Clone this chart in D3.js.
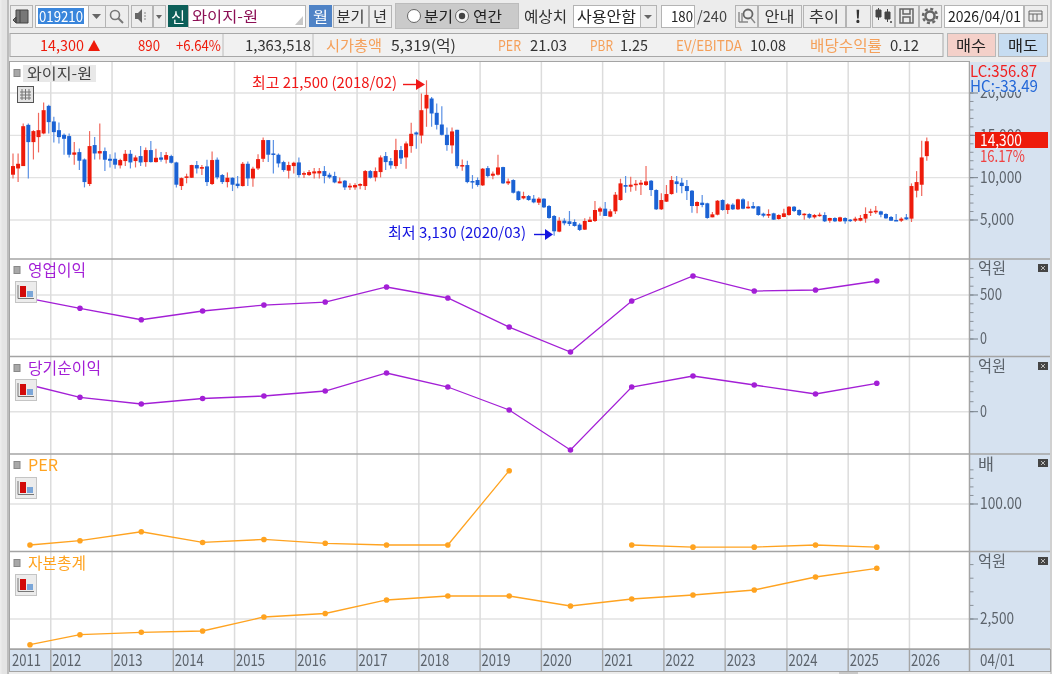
<!DOCTYPE html>
<html>
<head>
<meta charset="utf-8">
<script src="https://cdn.jsdelivr.net/npm/d3@7"></script>
<style>
  html, body { margin: 0; padding: 0; background: #ececec; overflow: hidden; }
  svg { display: block; filter: blur(0.35px); }
  text { font-family: "Noto Sans CJK KR", "Noto Sans", sans-serif; }
</style>
</head>
<body>
<svg id="chart" width="1052" height="674"></svg>
<script>
// monthly candles, 2011/05 .. 2026/04
const opens = [
  10350,11090,11370,16240,14200,14790,15220,18480,16640,15610,15060,14910,
  12710,13020,12150,9250,13850,12860,13140,12230,12230,11450,11960,12820,
  11960,12550,11840,13260,11840,12390,12120,12550,11800,9010,9990,9990,
  11490,11060,11330,9250,12120,10310,9480,9990,9290,9010,11640,9910,
  11090,12230,14440,12860,12710,11840,10820,11370,11800,10350,10310,10500,
  10500,10780,10350,10190,9330,9640,8850,8850,9050,9010,10780,10030,
  10660,12550,11960,11370,13260,12390,13730,15340,14980,18170,19350,17660,
  16280,15060,13810,15650,11370,11490,9600,9720,9090,11130,10230,10350,
  11250,9330,9720,8380,7555,7830,7520,7045,7520,6650,5475,3625,
  4925,4845,4765,4450,3860,4765,4885,5985,6340,5395,6025,7360,
  9130,8930,9130,9170,9130,9640,8540,6260,7165,8065,9560,9405,
  9010,8460,6650,7045,6970,5315,5630,7360,6180,6810,6260,7440,
  6375,6650,6610,5745,5510,5785,5120,5355,5590,6570,6180,5590,
  5710,5315,5470,5590,4920,5235,4845,5235,5040,4920,4920,5160,
  5865,5905,6020,5710,5355,5000,4920,5315,5160,8460,9165,12545
];
const closes = [
  11370,11640,16080,14200,15500,15610,17970,16560,15380,14790,14590,12710,
  12980,11999,9480,13730,12860,13140,12120,12000,11530,12080,12820,11800,
  12390,11800,13260,11840,12350,12120,12670,11760,9170,9950,10150,11490,
  11090,11250,9480,12080,10030,9480,9990,9170,9010,11640,9910,11060,
  12190,14440,12710,12740,11680,10900,11490,11760,10310,10540,10660,10740,
  10780,10190,10030,9440,9560,8850,9050,9130,9250,10780,9990,10780,
  12390,11840,11450,13260,12270,14040,15180,15100,17970,19780,17580,16240,
  15060,13850,15460,11370,11490,9480,9520,9130,11060,10190,10470,11210,
  9330,9560,8220,7360,7830,7360,7085,7520,6495,5240,3665,4925,
  4610,4530,4295,3825,4885,5040,6180,6375,5475,6025,7990,9325,
  8930,9170,9285,9405,9560,8540,6260,7360,8065,9720,9245,9010,
  8420,6650,7125,6770,5240,5670,7280,6180,6850,6260,7440,6335,
  6570,6375,5590,5510,5710,5040,5590,5785,6570,6060,5590,5745,
  5275,5590,5630,4845,5235,4845,5315,4845,4920,5160,5235,5710,
  6020,6100,5630,5195,4920,4920,5160,5080,9010,9480,12390,14300
];
const highs = [
  12860,12860,16400,16400,15610,17660,18880,18600,17190,16520,15220,15220,
  14200,13450,12270,15500,14790,16400,13570,12780,12980,12230,13260,13260,
  12630,13730,13570,14320,13410,13020,13020,12710,11880,10030,10470,11530,
  11960,11490,12120,13100,12390,10430,10620,10030,10190,11840,11920,11290,
  12780,14750,14440,14440,12860,12000,11880,11880,12390,10740,10900,11130,
  11130,11370,10580,10700,10030,9720,9330,9330,9330,10900,10900,11210,
  12630,13020,12310,14590,13730,14280,16480,15460,19940,21500,19540,18760,
  18440,15930,15930,15650,12150,12000,10310,10030,11130,11370,10740,12710,
  11290,9910,9800,8460,8340,7950,7950,7675,7555,6770,5590,5315,
  5200,6060,5080,4610,5200,5395,7240,6575,7125,6260,8300,9875,
  10190,10110,9720,9720,11370,9720,8620,8145,9130,10190,10190,9955,
  9720,8540,7200,7950,7045,5945,7360,7440,6970,6970,7515,7555,
  7200,7120,6650,5865,6260,5865,5670,6335,6650,6650,6260,5785,
  5785,5710,5865,5905,5275,5315,5395,5315,5120,5395,5590,6495,
  6335,6650,6100,5785,5470,5710,5315,5710,9325,10775,14355,14745
];
const lows = [
  9910,9480,11370,9910,12150,12980,15140,15220,14160,14040,12710,12390,
  11530,10900,8850,9010,12150,12150,10780,11210,11060,11090,11370,11090,
  11210,11370,11290,11800,11800,11880,11680,11680,8850,8540,9330,9950,
  10500,10310,9010,9130,9800,9250,8850,8420,8740,8970,9010,8930,
  10900,11840,11840,10500,11210,10700,9910,10500,10030,9950,10190,9910,
  9910,9330,9880,9330,9330,8540,8540,8580,8620,8540,9910,9560,
  10030,10900,11060,11060,11610,11060,12940,13410,14040,16010,16010,15690,
  14980,13180,12860,11090,10820,9330,8700,8930,9010,10030,9800,10270,
  9250,9130,8140,7280,7440,7280,6970,6770,6415,5160,3130,3550,
  4370,4295,4215,3705,3825,4765,4765,5515,5475,5315,5710,7280,
  8225,8340,8460,7950,9010,7830,6180,6180,7125,7990,8225,8145,
  7360,5865,5790,6495,5160,5315,5550,6100,5710,6180,6180,6260,
  6335,6335,5510,5315,5235,5000,5040,5315,5510,5945,5470,5040,
  5160,5160,5395,4765,4685,4765,4765,4570,4765,4765,4845,4685,
  5470,5710,5315,5160,4880,4880,4765,5000,4765,7670,7830,11995
];

const yearLabels = ["2011","2012","2013","2014","2015","2016","2017","2018","2019","2020","2021","2022","2023","2024","2025","2026"];
const yearSlots = [-0.5,7.4,19.4,31.4,43.4,55.4,67.4,79.5,91.5,103.5,115.5,127.5,139.5,151.6,163.6,175.6];

const financeSlots = [3.33,13.12,25.13,37.14,49.15,61.16,73.17,85.18,97.2,109.2,121.2,133.2,145.2,157.2,169.2];
const operatingProfit = [460,349,219,318,386,420,591,466,136,-148,432,716,545,557,659];
const netIncome = [267,144,77,132,157,207,387,247,17,-383,247,357,267,177,284];
const perValues = [4,14,35,10,17,8,4,4,178,null,4,-1,-1,4,-1];
const totalEquity = [1555,1923,2011,2059,2574,2702,3199,3346,3346,2978,3235,3382,3566,4044,4364];

const priceTicks = [5000,10000,15000,20000];
const RED = "#ee1b0b", BLUE = "#1b62d4", PURPLE = "#a31fd6", ORANGE = "#ffa320";
const AXIS_BG = "#d6e2f0", AXIS_TEXT = "#5c636b", GRID = "#e2e2e2", BORDER = "#a4a4a4";
const fmt = d3.format(",");

const svg = d3.select("#chart");
const x = d3.scaleLinear().domain([0, 179]).range([13, 926.8]);

function rect(g, x0, y0, w, h, fill, stroke) {
  return g.append("rect").attr("x", x0).attr("y", y0).attr("width", w).attr("height", h)
    .attr("fill", fill).attr("stroke", stroke || "none");
}
function label(g, x0, yMid, str, fill, size, width, anchor) {
  const t = g.append("text").attr("x", x0).attr("y", yMid)
    .attr("dy", "0.4em")
    .attr("fill", fill || "#333")
    .attr("font-size", size || 14)
    .attr("text-anchor", anchor || "start")
    .text(str);
  if (width) t.attr("textLength", width).attr("lengthAdjust", "spacingAndGlyphs");
  return t;
}
function button(g, x0, y0, w, h, str, width) {
  rect(g, x0 + 0.5, y0 + 0.5, w, h, "#ededed", "#b4b4b4");
  if (str) label(g, x0 + w / 2 - width / 2, y0 + h / 2, str, "#333", 15, width);
}

// toolbar
const bar = svg.append("g");
rect(bar, 0, 0, 1052, 674, "#ececec");
rect(bar, 1.5, 0, 6, 674, "#e4e4e4");
rect(bar, 7, 0, 2, 674, "#bdbdbd");
rect(bar, 1050, 0, 2, 674, "#d0d0d0");
button(bar, 10, 5, 22, 22);
bar.append("path").attr("d", "M16 10h12v13h-12zM20 10v13M13 20l3-3v6z").attr("fill", "#777").attr("stroke", "#444");
rect(bar, 35.5, 5.5, 53, 22, "#fff", "#b4b4b4");
rect(bar, 38, 8, 46, 16, "#3a86dc");
label(bar, 39, 16, "019210", "#fff", 15, 44);
button(bar, 88, 5, 17, 22);
bar.append("path").attr("d", "M92 14h9l-4.5 5z").attr("fill", "#666");
button(bar, 105, 5, 23, 22);
bar.append("circle").attr("cx", 115).attr("cy", 15).attr("r", 4.5).attr("fill", "none").attr("stroke", "#777").attr("stroke-width", 1.6);
bar.append("path").attr("d", "M118 18l5 5").attr("stroke", "#777").attr("stroke-width", 2);
button(bar, 131, 5, 21, 22);
bar.append("path").attr("d", "M135 13h3l4-4v14l-4-4h-3z").attr("fill", "#666");
bar.append("path").attr("d", "M144 13h2M144 16h2M144 19h2").attr("stroke", "#888");
button(bar, 153, 5, 12, 22);
bar.append("path").attr("d", "M156 15h6l-3 4z").attr("fill", "#666");
rect(bar, 168, 5, 20, 22, "#0c5f59");
label(bar, 171, 16, "신", "#fff", 14, 14);
rect(bar, 188.5, 5.5, 117, 22, "#fff", "#b4b4b4");
label(bar, 192, 16, "와이지-원", "#8c0f55", 15, 66);
bar.append("path").attr("d", "M303 25v-9l-8 9z").attr("fill", "#c8c8c8");
rect(bar, 309, 5, 23, 22, "#4f83c6");
label(bar, 313, 16, "월", "#fff", 15, 15);
button(bar, 333, 5, 35, 22, "분기", 28);
button(bar, 369, 5, 22, 22, "년", 14);
rect(bar, 395.5, 3.5, 123, 25, "#cacaca", "#bcbcbc");
bar.append("circle").attr("cx", 414).attr("cy", 16).attr("r", 6.5).attr("fill", "#fff").attr("stroke", "#666");
label(bar, 424, 16, "분기", "#222", 15, 29);
bar.append("circle").attr("cx", 462).attr("cy", 16).attr("r", 6.5).attr("fill", "#f4f4f4").attr("stroke", "#666");
bar.append("circle").attr("cx", 462).attr("cy", 16).attr("r", 3.2).attr("fill", "#444");
label(bar, 473, 16, "연간", "#222", 15, 29);
label(bar, 524, 16, "예상치", "#333", 15, 43);
rect(bar, 573.5, 5.5, 67, 22, "#fff", "#b4b4b4");
label(bar, 577, 16, "사용안함", "#222", 15, 59);
button(bar, 640, 5, 16, 22);
bar.append("path").attr("d", "M644 15h8l-4 4z").attr("fill", "#666");
rect(bar, 661.5, 5.5, 33, 22, "#fff", "#b4b4b4");
label(bar, 671, 16, "180", "#222", 15, 22);
label(bar, 697, 16, "/240", "#444", 15, 30);
button(bar, 735, 5, 22, 22);
bar.append("circle").attr("cx", 748).attr("cy", 14).attr("r", 4.5).attr("fill", "none").attr("stroke", "#666").attr("stroke-width", 1.8);
bar.append("path").attr("d", "M751 18l4 5M739 22h9M739 12v10M742 13v9").attr("stroke", "#888").attr("stroke-width", 1.4);
button(bar, 758, 5, 43, 22, "안내", 30);
button(bar, 803, 5, 42, 22, "추이", 30);
button(bar, 846, 5, 24, 22);
label(bar, 858, 16, "!", "#333", 17, null, "middle").attr("font-weight", 700);
button(bar, 872, 5, 22, 22);
bar.append("path").attr("d", "M876 10h5v7h-5zM885 12h5v7h-5zM878.5 8v12M887.5 9v13").attr("fill", "#444").attr("stroke", "#444");
bar.append("path").attr("d", "M890 22h2M891 21v2").attr("stroke", "#444");
button(bar, 895, 5, 23, 22);
bar.append("path").attr("d", "M900 9h13v14h-13zM903 9v5h7v-5M903 23v-6h7v6").attr("fill", "none").attr("stroke", "#666").attr("stroke-width", 1.5);
button(bar, 919, 5, 22, 22);
bar.append("circle").attr("cx", 930).attr("cy", 16).attr("r", 7).attr("fill", "none").attr("stroke", "#666").attr("stroke-width", 2.5).attr("stroke-dasharray", "3 2.5");
bar.append("circle").attr("cx", 930).attr("cy", 16).attr("r", 4.5).attr("fill", "none").attr("stroke", "#666").attr("stroke-width", 2.5);
rect(bar, 944.5, 5.5, 79, 22, "#fff", "#b4b4b4");
label(bar, 948, 16, "2026/04/01", "#222", 15, 73);
button(bar, 1024, 5, 23, 22);
bar.append("path").attr("d", "M1029 11h13v10h-13zM1029 14h13M1033 14v7M1037 14v7").attr("fill", "none").attr("stroke", "#666");

// quote strip
const strip = svg.append("g");
rect(strip, 10, 33.5, 933, 23, "#f1f1f1", "#a8a8a8");
strip.append("path").attr("d", "M223 34v22M313 34v22").attr("stroke", "#bcbcbc");
label(strip, 40, 45, "14,300", RED, 15, 44);
strip.append("path").attr("d", "M88 51l6-11 6 11z").attr("fill", RED);
label(strip, 138, 45, "890", RED, 15, 22);
label(strip, 176, 45, "+6.64%", RED, 15, 45);
label(strip, 245, 45, "1,363,518", "#333", 15, 66);
label(strip, 326, 45, "시가총액", "#f5a05a", 15, 56);
label(strip, 391, 45, "5,319(억)", "#333", 15, 65);
label(strip, 498, 45, "PER", "#f5a05a", 15, 23);
label(strip, 530, 45, "21.03", "#333", 15, 37);
label(strip, 590, 45, "PBR", "#f5a05a", 15, 23);
label(strip, 620, 45, "1.25", "#333", 15, 28);
label(strip, 676, 45, "EV/EBITDA", "#f5a05a", 15, 66);
label(strip, 750, 45, "10.08", "#333", 15, 36);
label(strip, 810, 45, "배당수익률", "#f5a05a", 15, 72);
label(strip, 890, 45, "0.12", "#333", 15, 29);
rect(strip, 947.5, 33.5, 48, 23, "#f4d0c9", "#b8b8b8");
label(strip, 956, 45, "매수", "#222", 15, 30);
rect(strip, 998.5, 33.5, 49, 23, "#c6dcf1", "#b8b8b8");
label(strip, 1008, 45, "매도", "#222", 15, 30);

// panels
const panels = [
  { top: 62, bottom: 259 },
  { top: 259, bottom: 356.5 },
  { top: 356.5, bottom: 454 },
  { top: 454, bottom: 551.5 },
  { top: 551.5, bottom: 649 }
];
const yPrice = d3.scaleLinear().domain([5000, 20000]).range([220, 93]);
const yOperating = d3.scaleLinear().domain([0, 500]).range([339, 295]);
const yNet = d3.scaleLinear().domain([0, 300]).range([411.7, 381.7]);
const yPer = d3.scaleLinear().domain([0, 100]).range([546.7, 504]);
const yEquity = d3.scaleLinear().domain([2000, 2500]).range([632.6, 619]);

const plot = svg.append("g");
rect(plot, 9.5, 61.5, 960, 588, "#fff", BORDER);
rect(plot, 970, 62, 80, 587, AXIS_BG);

// horizontal grid
const hLines = [
  ...priceTicks.map(yPrice),
  yOperating(0), yOperating(500), yNet(0), yPer(100), yEquity(2500)
];
plot.selectAll(".hgrid").data(hLines).join("line")
  .attr("x1", 10).attr("x2", 969).attr("y1", d => d).attr("y2", d => d)
  .attr("stroke", GRID).attr("stroke-width", 1.4);

// vertical year grid
plot.selectAll(".vgrid").data(yearSlots.slice(1)).join("line")
  .attr("x1", d => x(d)).attr("x2", d => x(d)).attr("y1", 62).attr("y2", 649)
  .attr("stroke", "#dcdcdc").attr("stroke-width", 1.5);

// panel dividers
plot.selectAll(".divider").data(panels.slice(1).map(p => p.top).concat(649)).join("line")
  .attr("x1", 9).attr("x2", 1050).attr("y1", d => d).attr("y2", d => d)
  .attr("stroke", BORDER).attr("stroke-width", 1.5);
plot.append("line").attr("x1", 969.5).attr("x2", 969.5).attr("y1", 62).attr("y2", 672)
  .attr("stroke", BORDER).attr("stroke-width", 1.5);

// candles
const candles = d3.range(180).map(i => ({ i, o: opens[i], h: highs[i], l: lows[i], c: closes[i] }));
const candleG = plot.append("g");
candleG.selectAll(".wick").data(candles).join("line")
  .attr("x1", d => x(d.i)).attr("x2", d => x(d.i))
  .attr("y1", d => yPrice(d.h)).attr("y2", d => yPrice(d.l))
  .attr("stroke", d => d.c >= d.o ? "#f0685c" : "#5a90e4")
  .attr("stroke-width", 1.2);
candleG.selectAll(".body").data(candles).join("rect")
  .attr("x", d => x(d.i) - 2)
  .attr("width", 4)
  .attr("y", d => yPrice(Math.max(d.o, d.c)))
  .attr("height", d => Math.max(1.5, Math.abs(yPrice(d.o) - yPrice(d.c))))
  .attr("fill", d => d.c >= d.o ? RED : BLUE);

// finance lines
function financeLine(values, y, color) {
  const pts = values.map((v, i) => ({ slot: financeSlots[i], v }));
  const line = d3.line().defined(d => d.v !== null).x(d => x(d.slot)).y(d => y(d.v));
  const g = plot.append("g");
  g.append("path").attr("d", line(pts)).attr("fill", "none").attr("stroke", color).attr("stroke-width", 1.3);
  g.selectAll("circle").data(pts.filter(d => d.v !== null)).join("circle")
    .attr("cx", d => x(d.slot)).attr("cy", d => y(d.v)).attr("r", 2.8).attr("fill", color);
}
financeLine(operatingProfit, yOperating, "#a31fd6");
financeLine(netIncome, yNet, "#a31fd6");
financeLine(perValues, yPer, ORANGE);
financeLine(totalEquity, yEquity, ORANGE);

// high / low callouts
label(plot, 252, 82, "최고 21,500 (2018/02)", "#f01818", 15, 145);
plot.append("path").attr("d", "M403 84.5h13").attr("stroke", "#f01818").attr("stroke-width", 1.4);
plot.append("path").attr("d", "M416 79l9 5.5-9 5.5z").attr("fill", "#f01818");
label(plot, 388, 232, "최저 3,130 (2020/03)", "#1414e0", 15, 138);
plot.append("path").attr("d", "M534 234.5h11").attr("stroke", "#1414e0").attr("stroke-width", 1.4);
plot.append("path").attr("d", "M545 229l8 5.5-8 5.5z").attr("fill", "#1414e0");

// panel titles and icons
function marker(yMid) { rect(plot, 14, yMid - 3.5, 6, 7, "#a8a8a8", "#888"); }
function chartIcon(y0) {
  rect(plot, 15.5, y0 + 0.5, 21, 21, "#ececec", "#c4c4c4");
  rect(plot, 20, y0 + 5, 6, 11, "#d20a0a");
  rect(plot, 27, y0 + 10, 6, 6, "#7ba6d8");
  plot.append("path").attr("d", `M18 ${y0 + 4}v13.5h16`).attr("fill", "none").attr("stroke", "#777");
}
marker(73);
rect(plot, 23, 65, 73, 17, "#e8e8e8");
label(plot, 27, 73, "와이지-원", "#444", 15, 65);
rect(plot, 17.5, 86.5, 16, 16, "#e4e4e4", "#555");
plot.append("path").attr("d", "M20 92h11M20 95h11M20 98h11M22 89v11M25.5 89v11M29 89v11").attr("stroke", "#777");

marker(270); label(plot, 28, 270, "영업이익", PURPLE, 16, 58); chartIcon(281);
marker(368); label(plot, 28, 368, "당기순이익", PURPLE, 16, 73); chartIcon(379);
marker(465); label(plot, 28, 465, "PER", ORANGE, 16, 30); chartIcon(477);
marker(563); label(plot, 28, 563, "자본총계", ORANGE, 16, 58); chartIcon(574);

// right axes
function yAxisTicks(scale, minors) {
  plot.append("g").selectAll("line").data(minors).join("line")
    .attr("x1", 970).attr("x2", 973.5).attr("y1", d => scale(d)).attr("y2", d => scale(d))
    .attr("stroke", "#8a929a");
}
function yAxisMajor(scale, value, text, width) {
  plot.append("line").attr("x1", 970).attr("x2", 978).attr("y1", scale(value)).attr("y2", scale(value)).attr("stroke", "#77808a");
  label(plot, 980, scale(value) - 1, text, AXIS_TEXT, 16, width);
}
function unitLabel(yMid, text, width) {
  label(plot, 978, yMid, text, AXIS_TEXT, 16, width);
}
function closeBox(yMid) {
  rect(plot, 1038, yMid - 4, 10, 8, "#454545");
  plot.append("path").attr("d", `M1041 ${yMid - 2}l4 4M1045 ${yMid - 2}l-4 4`).attr("stroke", "#bbb");
}

yAxisTicks(yPrice, d3.range(5000, 21000, 1000));
priceTicks.slice().reverse().forEach(v => yAxisMajor(yPrice, v, fmt(v), v === 5000 ? 34 : 42));

// LC/HC box hides the top price label, current price tag hides 15,000
rect(plot, 970, 62, 80, 30, AXIS_BG);
label(plot, 970, 71, "LC:356.87", "#f02020", 16, 67);
label(plot, 970, 86, "HC:-33.49", "#2468d8", 16, 68);
rect(plot, 975, 132, 73, 16, RED);
label(plot, 980, 140, fmt(closes[179]), "#fff", 16, 42);
label(plot, 980, 155.5, "16.17%", "#f04040", 16, 45);

yAxisTicks(yOperating, d3.range(0, 900, 100));
yAxisMajor(yOperating, 500, "500", 22);
yAxisMajor(yOperating, 0, "0", 7);
unitLabel(268, "억원", 28); closeBox(268);

yAxisTicks(yNet, d3.range(0, 500, 100));
yAxisMajor(yNet, 0, "0", 7);
unitLabel(366, "억원", 28); closeBox(366);

yAxisTicks(yPer, d3.range(100, 200, 20));
yAxisMajor(yPer, 100, "100.00", 42);
unitLabel(464, "배", 16); closeBox(463);

yAxisTicks(yEquity, d3.range(2500, 5000, 500));
yAxisMajor(yEquity, 2500, "2,500", 34);
unitLabel(561, "억원", 28); closeBox(561);

// x axis
rect(plot, 9.5, 649.5, 1041, 22, AXIS_BG, BORDER);
plot.selectAll(".xdiv").data(yearSlots.slice(1)).join("line")
  .attr("x1", d => x(d)).attr("x2", d => x(d)).attr("y1", 650).attr("y2", 672)
  .attr("stroke", BORDER).attr("stroke-width", 1.4);
plot.append("line").attr("x1", 969.5).attr("x2", 969.5).attr("y1", 650).attr("y2", 672)
  .attr("stroke", BORDER).attr("stroke-width", 1.5);
yearLabels.forEach((yr, i) => label(plot, x(yearSlots[i]) + 1.5, 659.5, yr, AXIS_TEXT, 16, 29));
label(plot, 980, 659.5, "04/01", AXIS_TEXT, 16, 35);
rect(plot, 839, 672, 19, 2, "#c8c8c8");
</script>
</body>
</html>
